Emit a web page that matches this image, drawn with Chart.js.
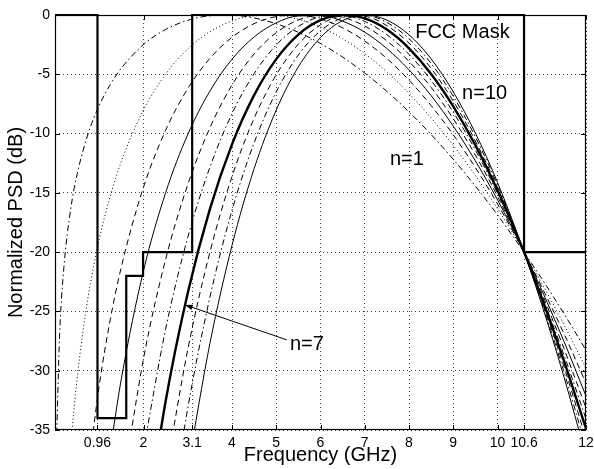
<!DOCTYPE html>
<html>
<head>
<meta charset="utf-8">
<script src="https://cdn.jsdelivr.net/npm/chart.js@4.4.0/dist/chart.umd.min.js"></script>
<style>
  html, body { margin: 0; padding: 0; background: #fff; }
</style>
</head>
<body>
<canvas id="chart" width="594" height="469"></canvas>
<script>
// frequency grid (GHz) shared by all curves
const freq = [0.04, 0.1, 0.2, 0.35, 0.5, 0.75, 1, 1.25, 1.5,
  2, 2.5, 3, 3.5, 4, 4.5, 5, 5.5, 6, 6.5, 7, 7.5, 8, 8.5, 9, 9.5, 10,
  10.6, 11, 11.5, 12];

// normalized PSD (dB) for pulse order n = 1..10
const psd1 = [-35.29, -27.34, -21.32, -16.49, -13.43, -10.00, -7.63, -5.86, -4.48,
  -2.49, -1.22, -0.45, -0.07, -0.02, -0.25, -0.74, -1.46, -2.40, -3.55, -4.90, -6.44, -8.17, -10.08, -12.17, -14.43, -16.86,
  -20.01, -22.24, -25.17, -28.28];
const psd2 = [null, null, -46.52, -36.83, -30.68, -23.75, -18.92, -15.26, -12.35,
  -8.01, -4.99, -2.86, -1.41, -0.51, -0.07, -0.03, -0.36, -1.02, -1.99, -3.26, -4.80, -6.61, -8.67, -10.99, -13.54, -16.33,
  -19.99, -22.62, -26.10, -29.80];
const psd3 = [null, null, null, null, null, -38.53, -31.23, -25.67, -21.23,
  -14.52, -9.72, -6.21, -3.66, -1.88, -0.73, -0.13, -0.01, -0.34, -1.08, -2.20, -3.67, -5.49, -7.64, -10.10, -12.87, -15.93,
  -20.00, -22.93, -26.85, -31.05];
const psd4 = [null, null, null, null, null, null, null, -36.63, -30.66,
  -21.57, -14.99, -10.08, -6.42, -3.73, -1.85, -0.66, -0.08, -0.05, -0.52, -1.45, -2.83, -4.62, -6.80, -9.37, -12.30, -15.59,
  -19.99, -23.20, -27.51, -32.14];
const psd5 = [null, null, null, null, null, null, null, null, -40.46,
  -28.99, -20.61, -14.31, -9.52, -5.91, -3.28, -1.49, -0.42, -0.01, -0.19, -0.93, -2.18, -3.91, -6.11, -8.75, -11.81, -15.29,
  -20.00, -23.45, -28.11, -33.14];
const psd6 = [null, null, null, null, null, null, null, null, null,
  -36.66, -26.49, -18.77, -12.85, -8.32, -4.94, -2.53, -0.96, -0.16, -0.04, -0.55, -1.66, -3.32, -5.51, -8.20, -11.38, -15.03,
  -20.00, -23.68, -28.65, -34.06];
const psd7 = [null, null, null, null, null, null, null, null, null,
  -44.54, -32.57, -23.44, -16.37, -10.91, -6.76, -3.72, -1.65, -0.44, -0.01, -0.29, -1.23, -2.81, -4.97, -7.70, -10.97, -14.77,
  -19.99, -23.87, -29.14, -34.89];
const psd8 = [null, null, null, null, null, null, null, null, null,
  null, -38.79, -28.23, -20.02, -13.62, -8.71, -5.04, -2.46, -0.83, -0.08, -0.12, -0.90, -2.37, -4.51, -7.26, -10.62, -14.55,
  -20.01, -24.08, -29.64, -35.72];
const psd9 = [null, null, null, null, null, null, null, null, null,
  null, -45.16, -33.18, -23.82, -16.48, -10.78, -6.48, -3.37, -1.33, -0.24, -0.03, -0.63, -2.00, -4.08, -6.85, -10.28, -14.33,
  -20.00, -24.25, -30.08, -36.47];
const psd10 = [null, null, null, null, null, null, null, null, null,
  null, null, -38.23, -27.71, -19.43, -12.96, -8.01, -4.37, -1.90, -0.47, 0.00, -0.43, -1.67, -3.70, -6.48, -9.96, -14.12,
  -20.00, -24.42, -30.50, -37.20];

// FCC indoor mask (step outline)
const maskFreq = [0, 0.96, 0.96, 1.61, 1.61, 1.99, 1.99, 3.1, 3.1, 10.6, 10.6, 12];
const maskPsd  = [0, 0, -34, -34, -22, -22, -20, -20, 0, 0, -20, -20];

const xTickValues = [0.96, 2, 3.1, 4, 5, 6, 7, 8, 9, 10, 10.6, 12];

const curves = [psd1, psd2, psd3, psd4, psd5, psd6, psd7, psd8, psd9, psd10];

// line styles per n
const DASH = [6, 4], DOT = [1, 2.5], DASHDOT = [6, 3, 1.5, 3];
const dashes = [DASHDOT, DOT, DASH, [], DASH, DASHDOT, [], DASH, DASHDOT, []];
const widths = [1, 1, 1, 1, 1, 1, 2.4, 1, 1, 1];

// text notes in data coordinates
const notes = [
  { text: 'FCC Mask', x: 8.14, y: -1.5 },
  { text: 'n=10', x: 9.2, y: -6.6 },
  { text: 'n=1', x: 7.57, y: -12.2 },
  { text: 'n=7', x: 5.31, y: -27.8 }
];
const arrowFrom = { x: 5.24, y: -27.4 };
const arrowTo = { x: 2.94, y: -24.45 };

const FONT = '"Liberation Sans", Arial, Helvetica, sans-serif';
Chart.defaults.font.family = FONT;
Chart.defaults.color = '#000';

const datasets = curves.map((vals, i) => ({
  label: 'n=' + (i + 1),
  data: freq.map((f, j) => ({ x: f, y: vals[j] })),
  borderColor: '#000',
  borderWidth: widths[i],
  borderDash: dashes[i],
  pointRadius: 0,
  cubicInterpolationMode: 'monotone',
  fill: false
}));
datasets.push({
  label: 'FCC Mask',
  data: maskFreq.map((f, j) => ({ x: f, y: maskPsd[j] })),
  borderColor: '#000',
  borderWidth: 2.2,
  pointRadius: 0,
  tension: 0,
  clip: 4,
  fill: false
});

const overlay = {
  id: 'overlay',
  afterDatasetsDraw(chart) {
    const { ctx, chartArea: a, scales: { x, y } } = chart;
    ctx.save();
    ctx.strokeStyle = '#000';
    ctx.lineWidth = 1;
    ctx.setLineDash([]);
    ctx.beginPath();
    x.ticks.forEach(t => {
      const px = Math.round(x.getPixelForValue(t.value)) + 0.5;
      ctx.moveTo(px, a.bottom); ctx.lineTo(px, a.bottom - 5);
      ctx.moveTo(px, a.top); ctx.lineTo(px, a.top + 5);
    });
    y.ticks.forEach(t => {
      const py = Math.round(y.getPixelForValue(t.value)) + 0.5;
      ctx.moveTo(a.left, py); ctx.lineTo(a.left + 5, py);
      ctx.moveTo(a.right, py); ctx.lineTo(a.right - 5, py);
    });
    ctx.stroke();
    ctx.lineWidth = 1.2;
    ctx.strokeRect(a.left + 0.5, a.top + 0.5, a.right - a.left - 1, a.bottom - a.top - 1);

    ctx.fillStyle = '#000';
    ctx.font = '20px ' + FONT;
    ctx.textAlign = 'left';
    ctx.textBaseline = 'middle';
    notes.forEach(n => ctx.fillText(n.text, x.getPixelForValue(n.x), y.getPixelForValue(n.y)));

    // arrow to the n=7 curve
    const x0 = x.getPixelForValue(arrowFrom.x), y0 = y.getPixelForValue(arrowFrom.y);
    const x1 = x.getPixelForValue(arrowTo.x), y1 = y.getPixelForValue(arrowTo.y);
    const ang = Math.atan2(y1 - y0, x1 - x0);
    ctx.lineWidth = 1;
    ctx.beginPath();
    ctx.moveTo(x0, y0); ctx.lineTo(x1, y1);
    ctx.stroke();
    ctx.beginPath();
    ctx.moveTo(x1, y1);
    ctx.lineTo(x1 - 8 * Math.cos(ang - 0.35), y1 - 8 * Math.sin(ang - 0.35));
    ctx.lineTo(x1 - 8 * Math.cos(ang + 0.35), y1 - 8 * Math.sin(ang + 0.35));
    ctx.closePath();
    ctx.fill();
    ctx.restore();
  }
};

new Chart(document.getElementById('chart'), {
  type: 'line',
  data: { datasets },
  options: {
    responsive: false,
    devicePixelRatio: 1,
    animation: false,
    layout: { padding: { left: 0, right: 8, top: 15, bottom: 0 } },
    plugins: { legend: { display: false }, tooltip: { enabled: false } },
    scales: {
      x: {
        type: 'linear',
        min: 0, max: 12,
        afterBuildTicks: s => { s.ticks = xTickValues.map(v => ({ value: v })); },
        afterFit: s => { s.height = 39; s.paddingLeft = 0; s.paddingRight = 0; },
        grid: { color: 'rgba(0,0,0,0.75)', lineWidth: 1, drawTicks: false },
        border: { display: false, dash: [1, 3] },
        ticks: { autoSkip: false, maxRotation: 0, padding: 5, font: { size: 14 }, callback: v => String(v) },
        title: { display: true, text: 'Frequency (GHz)', font: { size: 20 }, padding: { top: 0, bottom: 2 } }
      },
      y: {
        min: -35, max: 0,
        afterFit: s => { s.width = 55; },
        grid: { color: 'rgba(0,0,0,0.75)', lineWidth: 1, drawTicks: false },
        border: { display: false, dash: [1, 3] },
        ticks: { stepSize: 5, padding: 5, font: { size: 14 }, callback: v => String(v) },
        title: { display: true, text: 'Normalized PSD (dB)', font: { size: 20 }, padding: { top: 4, bottom: 0 } }
      }
    }
  },
  plugins: [overlay]
});
</script>
</body>
</html>
